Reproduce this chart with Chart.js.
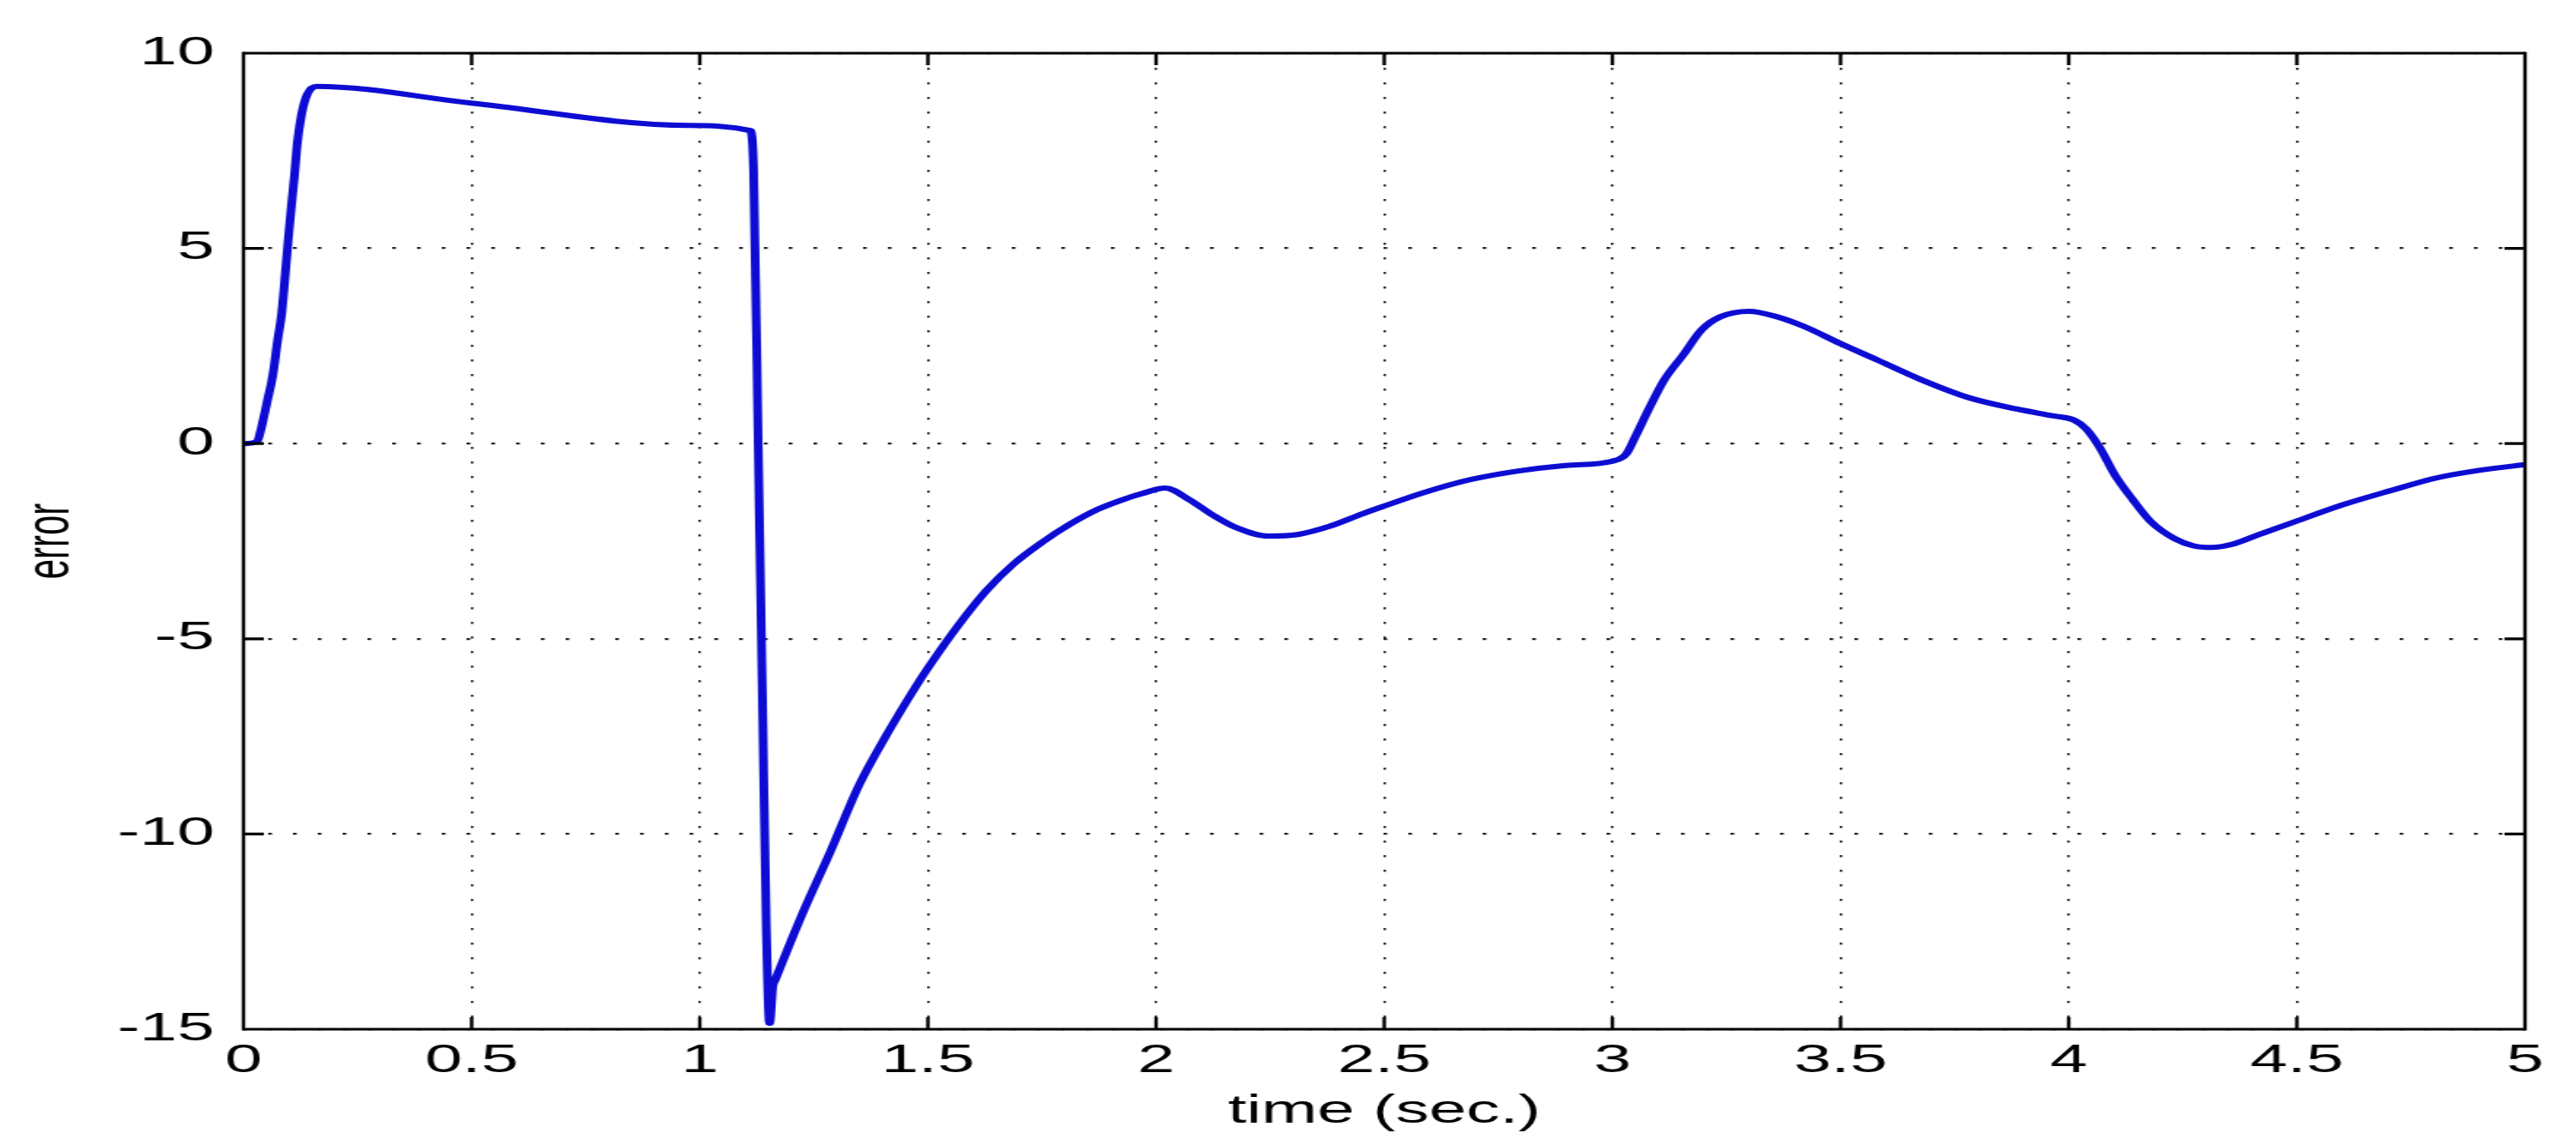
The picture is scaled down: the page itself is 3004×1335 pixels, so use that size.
<!DOCTYPE html>
<html>
<head>
<meta charset="utf-8">
<script src="https://cdn.jsdelivr.net/npm/chart.js@4/dist/chart.umd.min.js"></script>
<style>
  html, body { margin: 0; padding: 0; background: #fff; overflow: hidden; }
</style>
</head>
<body>
<canvas id="c" width="1767" height="1335" style="display:block;width:3004px;height:1335px"></canvas>
<script>
// ---- data ----
const time = [0, 0.03, 0.037, 0.052, 0.065, 0.074, 0.084, 0.093, 0.102, 0.112, 0.118, 0.128, 0.14, 0.16,
  0.5, 0.976, 1.11, 1.118, 1.128, 1.138, 1.146, 1.153, 1.16, 1.165,
  1.225, 1.287, 1.349, 1.41, 1.472, 1.5, 1.565, 1.627, 1.688, 1.75, 1.812, 1.873, 1.941, 1.969,
  2.02, 2.072, 2.124, 2.175, 2.247, 2.31, 2.38, 2.454, 2.5, 2.588, 2.69, 2.794, 2.897, 3.0,
  3.03, 3.05, 3.08, 3.113, 3.155, 3.196, 3.237, 3.3, 3.36, 3.42, 3.5, 3.577, 3.68, 3.78, 3.884, 3.966,
  4.012, 4.038, 4.069, 4.1, 4.14, 4.18, 4.233, 4.274, 4.315, 4.355, 4.417, 4.496, 4.6, 4.704, 4.806, 4.909, 5.0];
const errorValues = [0, 0.05, 0.3, 1.08, 1.8, 2.58, 3.36, 4.54, 5.72, 6.9, 7.69, 8.47, 8.95, 9.15,
  8.72, 8.15, 8.02, 7.0, 0, -7, -12.5, -14.85, -13.9, -13.75,
  -12.04, -10.43, -8.75, -7.45, -6.25, -5.75, -4.68, -3.78, -3.08, -2.53, -2.06, -1.68, -1.38, -1.28,
  -1.14, -1.43, -1.83, -2.15, -2.37, -2.33, -2.12, -1.79, -1.6, -1.25, -0.92, -0.70, -0.56, -0.45,
  -0.27, 0.17, 0.89, 1.62, 2.27, 2.92, 3.25, 3.39, 3.25, 3.0, 2.56, 2.16, 1.62, 1.18, 0.89, 0.71,
  0.60, 0.38, -0.12, -0.78, -1.43, -2.0, -2.44, -2.62, -2.66, -2.59, -2.33, -2.0, -1.57, -1.21, -0.88, -0.67, -0.54];
const xTicks = [0, 0.5, 1, 1.5, 2, 2.5, 3, 3.5, 4, 4.5, 5];
const yTicks = [-15, -10, -5, 0, 5, 10];
const xTitle = 'time (sec.)';
const yTitle = 'error';

const points = time.map((t, i) => ({ x: t, y: errorValues[i] }));

const FONT = "'Liberation Sans', Arial, Helvetica, sans-serif";

const framePlugin = {
  id: 'frame',
  afterDatasetsDraw(chart) {
    const { ctx, chartArea: a, scales: { x, y } } = chart;
    const tl = 14;
    ctx.save();
    ctx.strokeStyle = '#000';
    ctx.lineWidth = 2.4;
    ctx.beginPath();
    xTicks.forEach(v => {
      const px = x.getPixelForValue(v);
      ctx.moveTo(px, a.bottom); ctx.lineTo(px, a.bottom - tl);
      ctx.moveTo(px, a.top); ctx.lineTo(px, a.top + tl);
    });
    ctx.moveTo(a.left, a.top - 1.6); ctx.lineTo(a.left, a.bottom + 1.6);
    ctx.moveTo(a.right, a.top - 1.6); ctx.lineTo(a.right, a.bottom + 1.6);
    ctx.stroke();
    ctx.lineWidth = 3.2;
    ctx.beginPath();
    yTicks.forEach(v => {
      const py = y.getPixelForValue(v);
      ctx.moveTo(a.left, py); ctx.lineTo(a.left + tl, py);
      ctx.moveTo(a.right, py); ctx.lineTo(a.right - tl, py);
    });
    ctx.moveTo(a.left, a.top); ctx.lineTo(a.right, a.top);
    ctx.moveTo(a.left, a.bottom); ctx.lineTo(a.right, a.bottom);
    ctx.stroke();
    ctx.restore();
  }
};

new Chart(document.getElementById('c'), {
  type: 'line',
  data: {
    datasets: [{
      data: points,
      borderColor: '#0c0cd2',
      borderWidth: 6,
      pointRadius: 0,
      cubicInterpolationMode: 'monotone',
      fill: false
    }]
  },
  options: {
    responsive: false,
    maintainAspectRatio: false,
    devicePixelRatio: 1,
    animation: false,
    layout: { padding: { left: 0, right: 35, top: 62, bottom: 0 } },
    plugins: { legend: { display: false }, tooltip: { enabled: false } },
    scales: {
      x: {
        type: 'linear',
        min: 0, max: 5,
        afterBuildTicks: s => { s.ticks = xTicks.map(v => ({ value: v })); },
        afterFit: s => { s.height = 135; },
        grid: { color: '#1a1a1a', lineWidth: 1.6, drawTicks: false },
        border: { display: false, dash: [2.5, 14.5] },
        ticks: { color: '#000', font: { family: FONT, size: 46 }, padding: 10, maxRotation: 0, autoSkip: false, callback: v => String(v) },
        title: { display: true, text: xTitle, color: '#000', font: { family: FONT, size: 46 }, padding: { top: 0, bottom: 11 } }
      },
      y: {
        type: 'linear',
        min: -15, max: 10,
        afterBuildTicks: s => { s.ticks = yTicks.map(v => ({ value: v })); },
        afterFit: s => { s.width = 167; },
        grid: { color: '#1a1a1a', lineWidth: 2.2, drawTicks: false },
        border: { display: false, dash: [2.5, 14.5] },
        ticks: { color: '#000', font: { family: FONT, size: 46 }, padding: 20, autoSkip: false, callback: v => String(v) },
        title: { display: true, text: yTitle, color: '#000', font: { family: FONT, size: 42 }, padding: { top: 10, bottom: 0 } }
      }
    }
  },
  plugins: [framePlugin]
});
</script>
</body>
</html>
